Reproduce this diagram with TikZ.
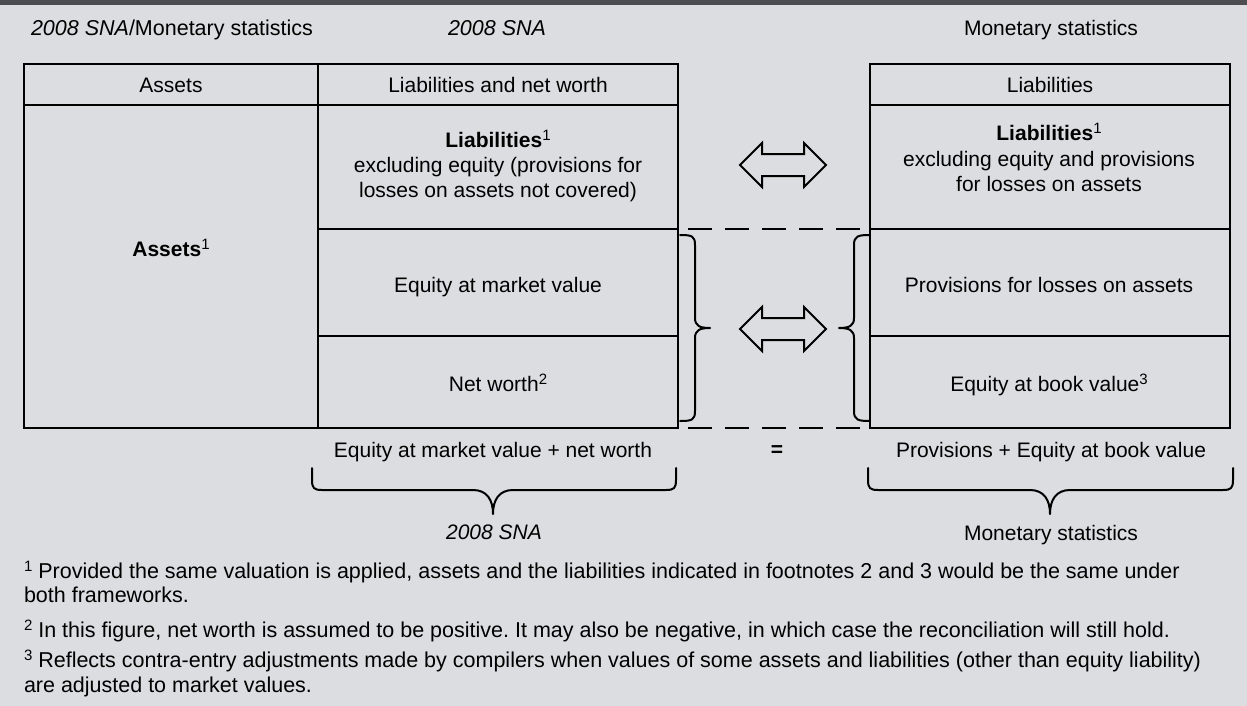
\documentclass[tikz,border=0pt]{standalone}
\usepackage{fontspec}
\setmainfont{Liberation Sans}
\definecolor{bg}{HTML}{DCDDE0}
\definecolor{bar}{HTML}{4D4D4F}
\newcommand\supr[1]{\raisebox{7pt}{\fontsize{15}{15}\selectfont #1}}
\frenchspacing
\begin{document}
\begin{tikzpicture}[x=1pt,y=-1pt,
  every node/.style={inner sep=0pt,outer sep=0pt,font=\fontsize{21}{25}\selectfont},
  txt/.style={anchor=base},
  txtl/.style={anchor=base west},
  fnote/.style={anchor=base west,font=\fontsize{21.5}{25}\selectfont},
  tbl/.style={line width=2.6pt,line cap=rect},
  brc/.style={line width=2pt,line cap=round,line join=round},
  dsh/.style={line width=2.6pt,dash pattern=on 24pt off 13pt,dash phase=27pt},
  dblarrow/.style={line width=2pt,line join=miter}]
\useasboundingbox (0,0) rectangle (1247,706);
\fill[bg] (0,0) rectangle (1247,706);
\fill[bar] (0,0) rectangle (1247,5);

% headings
\node[txtl,font=\fontsize{21.5}{25}\selectfont] (hA) at (31,36) {\textit{2008 SNA}/Monetary statistics};
\node[txtl,font=\fontsize{21.5}{25}\selectfont] (hB) at (448,36) {\textit{2008 SNA}};
\node[txt] (hC) at (1051,36) {Monetary statistics};

% left table
\draw[tbl] (24,64) rectangle (678,428);
\draw[tbl] (318,64) -- (318,428);
\draw[tbl] (24,105) -- (678,105);
\draw[tbl] (318,229) -- (678,229);
\draw[tbl] (318,336) -- (678,336);
% right table
\draw[tbl] (870,64) rectangle (1230,428);
\draw[tbl] (870,105) -- (1230,105);
\draw[tbl] (870,229) -- (1230,229);
\draw[tbl] (870,336) -- (1230,336);

% header cells
\node[txt] (c1) at (171,93) {Assets};
\node[txt] (c2) at (498,93) {Liabilities and net worth};
\node[txt] (c3) at (1050,93) {Liabilities};

% left cells
\node[txt] (la1) at (498,147) {\textbf{Liabilities}\supr{1}};
\node[txt] (la2) at (498,172) {excluding equity (provisions for};
\node[txt] (la3) at (498,197) {losses on assets not covered)};
\node[txt] (as) at (171,256) {\textbf{Assets}\supr{1}};
\node[txt] (eqm) at (498,292) {Equity at market value};
\node[txt] (nw) at (498,391) {Net worth\supr{2}};

% right cells
\node[txt] (ra1) at (1049,141) {\textbf{Liabilities}\supr{1}};
\node[txt] (ra2) at (1049,166) {excluding equity and provisions};
\node[txt] (ra3) at (1049,191) {for losses on assets};
\node[txt] (pr) at (1049,292) {Provisions for losses on assets};
\node[txt] (eqb) at (1049,391) {Equity at book value\supr{3}};

% dashed connectors
\coordinate (d1a) at (678,229); \coordinate (d1b) at (870,229);
\coordinate (d2a) at (678,428); \coordinate (d2b) at (870,428);
\draw[dsh] (d1a) -- (d1b);
\draw[dsh] (d2a) -- (d2b);

% vertical braces
\draw[brc] (680,235) .. controls (692,235) and (695,236) .. (695,245) -- (695,318)
  .. controls (695,326) and (700,328) .. (710,328)
  .. controls (700,328) and (695,330) .. (695,338) -- (695,411)
  .. controls (695,420) and (692,421) .. (680,421);
\draw[brc] (870,235) .. controls (858,235) and (854,236) .. (854,245) -- (854,318)
  .. controls (854,326) and (849,328) .. (839,328)
  .. controls (849,328) and (854,330) .. (854,338) -- (854,411)
  .. controls (854,420) and (858,421) .. (870,421);

% double arrows
\begin{scope}[shift={(783,165)}]
\draw[dblarrow] (-43,0)--(-21,-22)--(-21,-11)--(21,-11)--(21,-22)--(43,0)--(21,22)--(21,11)--(-21,11)--(-21,22)--cycle;
\end{scope}
\begin{scope}[shift={(783,329)}]
\draw[dblarrow] (-43,0)--(-21,-22)--(-21,-11)--(21,-11)--(21,-22)--(43,0)--(21,22)--(21,11)--(-21,11)--(-21,22)--cycle;
\end{scope}

% sums
\node[txt] (s1) at (493,457) {Equity at market value + net worth};
\node[font=\fontsize{21}{25}\selectfont\bfseries] (eq) at (777,451) {=};
\node[txt] (s2) at (1051,457) {Provisions + Equity at book value};

% horizontal braces
\draw[brc] (312,468) -- (312,480) .. controls (312,488) and (314,490) .. (322,490) -- (473,490)
  .. controls (487,490) and (493,500) .. (493,514)
  .. controls (493,500) and (499,490) .. (513,490) -- (666,490)
  .. controls (674,490) and (676,488) .. (676,480) -- (676,468);
\draw[brc] (868,468) -- (868,480) .. controls (868,488) and (870,490) .. (878,490) -- (1030,490)
  .. controls (1044,490) and (1050,500) .. (1050,514)
  .. controls (1050,500) and (1056,490) .. (1070,490) -- (1223,490)
  .. controls (1231,490) and (1233,488) .. (1233,480) -- (1233,468);

\node[txt] (b1) at (494,539) {\textit{2008 SNA}};
\node[txt] (b2) at (1051,540) {Monetary statistics};

% footnotes
\node[fnote] (f1a) at (24,578) {\supr{1} Provided the same valuation is applied, assets and the liabilities indicated in footnotes 2 and 3 would be the same under};
\node[fnote] (f1b) at (24,602) {both frameworks.};
\node[fnote] (f2) at (24,637) {\supr{2} In this figure, net worth is assumed to be positive. It may also be negative, in which case the reconciliation will still hold.};
\node[fnote] (f3a) at (24,667) {\supr{3} Reflects contra-entry adjustments made by compilers when values of some assets and liabilities (other than equity liability)};
\node[fnote] (f3b) at (24,692) {are adjusted to market values.};
\end{tikzpicture}
\end{document}
